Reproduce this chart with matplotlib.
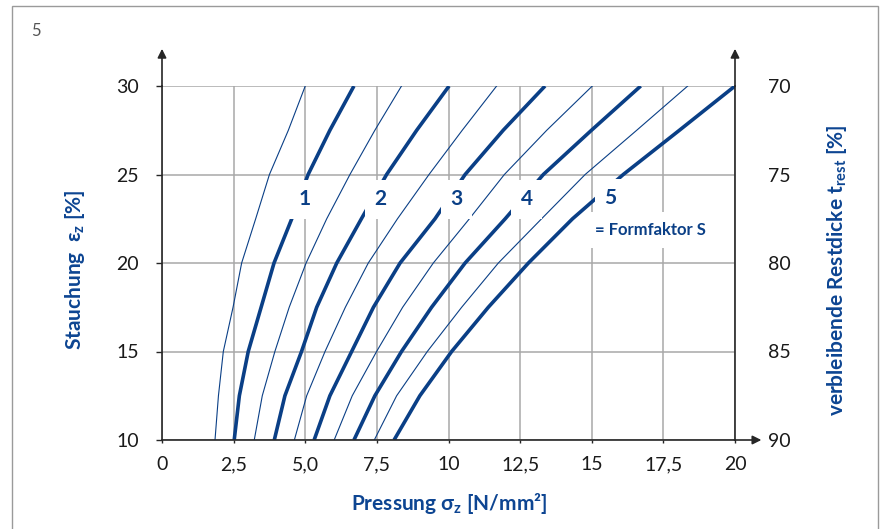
import matplotlib
matplotlib.use('Agg')
import matplotlib.pyplot as plt
from matplotlib.patches import Rectangle

# ---------------- data ----------------
strain = [10, 12.5, 15, 17.5, 20, 22.5, 25, 27.5, 30]          # Stauchung eps_z [%]
# thick curves: Formfaktor S = 1 ... 5  (pressure sigma_z [N/mm²])
s1 = [2.52, 2.70, 3.01, 3.46, 3.91, 4.53, 5.10, 5.86, 6.70]
s2 = [3.92, 4.29, 4.87, 5.40, 6.10, 6.96, 7.84, 8.89, 10.02]
s3 = [5.31, 5.86, 6.62, 7.38, 8.31, 9.53, 10.58, 11.91, 13.37]
s4 = [6.70, 7.43, 8.36, 9.41, 10.58, 11.98, 13.31, 14.99, 16.71]
s5 = [8.10, 9.00, 10.11, 11.39, 12.79, 14.33, 16.10, 18.06, 20.00]
# thin intermediate curves: S = 0.5, 1.5, 2.5, 3.5, 4.5
s05 = [1.85, 1.97, 2.14, 2.48, 2.78, 3.27, 3.75, 4.41, 5.00]
s15 = [3.22, 3.50, 3.94, 4.44, 5.03, 5.75, 6.56, 7.43, 8.36]
s25 = [4.62, 5.05, 5.69, 6.40, 7.20, 8.22, 9.32, 10.48, 11.68]
s35 = [6.01, 6.64, 7.49, 8.40, 9.47, 10.73, 11.95, 13.43, 15.02]
s45 = [7.41, 8.19, 9.26, 10.46, 11.74, 13.25, 14.77, 16.57, 18.35]

thick_curves = [s1, s2, s3, s4, s5]
thin_curves = [s05, s15, s25, s35, s45]
curve_labels = ['1', '2', '3', '4', '5']
label_x = [4.97, 7.61, 10.28, 12.73, 15.64]
label_y = [23.6, 23.6, 23.6, 23.6, 23.65]

x_ticks = [0, 2.5, 5, 7.5, 10, 12.5, 15, 17.5, 20]
x_ticklabels = ['0', '2,5', '5,0', '7,5', '10', '12,5', '15', '17,5', '20']
y_ticks = [10, 15, 20, 25, 30]
y_ticklabels = ['10', '15', '20', '25', '30']
y2_ticklabels = ['90', '85', '80', '75', '70']   # verbleibende Restdicke

# ---------------- style ----------------
plt.rcParams['font.family'] = ['Lato', 'DejaVu Sans']
plt.rcParams['mathtext.fontset'] = 'custom'
plt.rcParams['mathtext.rm'] = 'Lato'
plt.rcParams['mathtext.bf'] = 'Lato:bold'
plt.rcParams['mathtext.it'] = 'Lato:italic'
plt.rcParams['mathtext.fallback'] = 'stixsans'

BLUE = '#0a3f86'
LBLUE = '#0d4592'
GRID = '#a8a8a8'
AXC = '#262626'
W, H = 884, 529

fig = plt.figure(figsize=(W / 100, H / 100), dpi=100)
fig.patch.set_facecolor('white')
ax = fig.add_axes([162 / W, (H - 440) / H, 573 / W, 354 / H])

ax.set_xlim(0, 20)
ax.set_ylim(10, 30)
ax.set_xticks(x_ticks)
ax.set_xticklabels(x_ticklabels)
ax.set_yticks(y_ticks)
ax.set_yticklabels(y_ticklabels)
ax.grid(True, color=GRID, lw=1.1, zorder=0)
ax.set_axisbelow(True)

ax.spines['top'].set_visible(False)
for s in ['left', 'bottom', 'right']:
    ax.spines[s].set_color(AXC)
    ax.spines[s].set_linewidth(1.2)
    ax.spines[s].set_zorder(5)

ax.tick_params(axis='y', length=4.5, width=1.0, color=AXC, pad=12, labelsize=14, labelcolor='#1a1a1a')
ax.tick_params(axis='x', length=2.5, width=1.0, color=AXC, pad=9, labelsize=14, labelcolor='#1a1a1a')

# curves
for c in thin_curves:
    ax.plot(c, strain, color=BLUE, lw=0.8, zorder=2, solid_joinstyle='round')
for c in thick_curves:
    ax.plot(c, strain, color=BLUE, lw=2.6, zorder=3, solid_joinstyle='round',
            solid_capstyle='butt')

# labels with white boxes
for lx, ly, t in zip(label_x, label_y, curve_labels):
    ax.text(lx, ly, t, ha='center', va='center', fontsize=15, fontweight='bold',
            color=BLUE, zorder=6,
            bbox=dict(boxstyle='square,pad=0.45', fc='white', ec='none'))
ax.text(15.11, 21.88, '= Formfaktor S', ha='left', va='center', fontsize=12,
        fontweight='bold', color=BLUE, zorder=6,
        bbox=dict(boxstyle='square,pad=0.6', fc='white', ec='none'))

# secondary axis on the right
ax2 = ax.twinx()
ax2.set_ylim(10, 30)
ax2.set_yticks(y_ticks)
ax2.set_yticklabels(y2_ticklabels)
ax2.tick_params(axis='y', length=0, pad=24, labelsize=14, labelcolor='#1a1a1a')
for s in ['top', 'left', 'bottom', 'right']:
    ax2.spines[s].set_visible(False)

# axis arrows
arrow = dict(arrowstyle='-|>', color=AXC, lw=1.2, mutation_scale=13, shrinkA=0, shrinkB=0)
ax.annotate('', xy=(0, 1.105), xytext=(0, 0.999), xycoords='axes fraction',
            arrowprops=arrow, annotation_clip=False)
ax.annotate('', xy=(1, 1.105), xytext=(1, 0.999), xycoords='axes fraction',
            arrowprops=arrow, annotation_clip=False)
ax.annotate('', xy=(1.046, 0), xytext=(0.999, 0), xycoords='axes fraction',
            arrowprops=arrow, annotation_clip=False)

# axis titles
fig.text(449 / W, 1 - 503 / H, r'Pressung $\mathbf{σ_z}$ [N/mm²]', ha='center', va='center',
         fontsize=15, fontweight='bold', color=LBLUE)
fig.text(75 / W, 1 - 270 / H, r'Stauchung  $\mathbf{ε_z}$ [%]', ha='center', va='center',
         rotation=90, fontsize=15, fontweight='bold', color=LBLUE)
fig.text(837 / W, 1 - 270 / H, r'verbleibende Restdicke $\mathbf{t_{rest}}$ [%]', ha='center',
         va='center', rotation=90, fontsize=15, fontweight='bold', color=LBLUE)

# figure number and frame
fig.text(36 / W, 1 - 31 / H, '5', ha='center', va='center', fontsize=12, color='#555555')
fig.patches.append(Rectangle((12 / W, -0.05), 866 / W, 1.05 - 6 / H, transform=fig.transFigure,
                             fill=False, ec='#9a9a9a', lw=1.0))

fig.savefig('out.png', dpi=100)
